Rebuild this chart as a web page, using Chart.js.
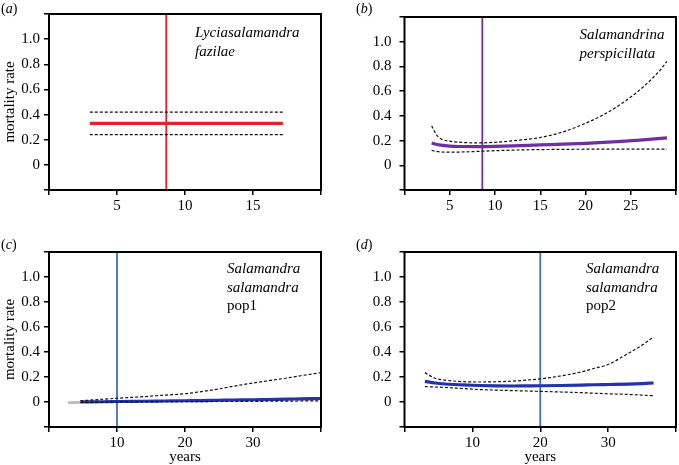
<!DOCTYPE html>
<html lang="en">
<head>
    <meta charset="UTF-8">
    <title>Mortality rate by age</title>
    <script src="https://cdn.jsdelivr.net/npm/chart.js@4.4.0/dist/chart.umd.min.js"></script>
    <style>
        body, html {
            margin: 0;
            padding: 0;
            background: #fff;
        }
        canvas {
            position: absolute; /* each panel sits in its own canvas */
        }
    </style>
</head>
<body>
<canvas id="panelA" width="340" height="230" style="left:0;top:0"></canvas>
<canvas id="panelB" width="339" height="230" style="left:340px;top:0"></canvas>
<canvas id="panelC" width="340" height="235" style="left:0;top:230px"></canvas>
<canvas id="panelD" width="339" height="235" style="left:340px;top:230px"></canvas>

<script>
    // (a) Lyciasalamandra fazilae
    const aYears = [3, 17.2];
    const aRate = [0.33, 0.33];
    const aUpper = [0.42, 0.42];
    const aLower = [0.24, 0.24];
    const aCut = 8.62;

    // (b) Salamandrina perspicillata
    const bYears = [3, 3.5, 4, 5, 6, 8, 10, 12, 15, 17.5, 20, 22, 24, 26, 28, 29];
    const bRate = [0.18, 0.17, 0.163, 0.155, 0.152, 0.151, 0.153, 0.157, 0.165, 0.171, 0.178, 0.185, 0.193, 0.203, 0.215, 0.222];
    const bUpper = [0.32, 0.25, 0.215, 0.195, 0.187, 0.181, 0.186, 0.198, 0.225, 0.27, 0.34, 0.41, 0.5, 0.61, 0.75, 0.84];
    const bLower = [0.12, 0.113, 0.108, 0.106, 0.107, 0.112, 0.118, 0.123, 0.127, 0.129, 0.13, 0.13, 0.13, 0.13, 0.13, 0.13];
    const bCut = 8.6;

    // (c) Salamandra salamandra pop1
    const cYears = [4.6, 8, 10, 14, 17, 20, 22, 25, 27, 30, 32, 35, 37, 40];
    const cRate = [0, 0.002, 0.004, 0.006, 0.008, 0.01, 0.011, 0.014, 0.016, 0.018, 0.02, 0.023, 0.025, 0.028];
    const cUpper = [0.01, 0.022, 0.03, 0.043, 0.055, 0.066, 0.08, 0.105, 0.125, 0.152, 0.168, 0.192, 0.21, 0.235];
    const cLower = [-0.003, -0.002, 0, 0.001, 0.002, 0.002, 0.003, 0.004, 0.004, 0.005, 0.006, 0.007, 0.008, 0.01];
    const cEarlyYears = [2.8, 4.6];
    const cEarly = [-0.005, -0.003];
    const cCut = 10;

    // (d) Salamandra salamandra pop2
    const dYears = [3, 4.5, 6, 8.5, 11, 13.5, 16, 18, 20, 23, 26, 28, 30, 33, 35, 36.7];
    const dRate = [0.165, 0.152, 0.144, 0.137, 0.132, 0.129, 0.128, 0.129, 0.13, 0.132, 0.135, 0.138, 0.14, 0.143, 0.147, 0.152];
    const dUpper = [0.235, 0.19, 0.175, 0.163, 0.16, 0.162, 0.167, 0.175, 0.185, 0.208, 0.24, 0.27, 0.3, 0.39, 0.455, 0.52];
    const dLower = [0.123, 0.12, 0.116, 0.108, 0.1, 0.095, 0.091, 0.088, 0.085, 0.08, 0.075, 0.07, 0.066, 0.06, 0.055, 0.05];
    const dCut = 20;

    const yMin = -0.2, yMax = 1.2;
    const serif = '"Liberation Serif", "Times New Roman", serif';

    function pts(xs, ys) {
        return xs.map((x, i) => ({x: x, y: ys[i]}));
    }

    function curve(xs, ys, color, width, dash) {
        return {
            data: pts(xs, ys),
            showLine: true,
            borderColor: color,
            borderWidth: width,
            borderDash: dash || [],
            pointRadius: 0,
            cubicInterpolationMode: 'monotone',
            fill: false
        };
    }

    function cutLine(x, color) {
        return {
            data: [{x: x, y: yMin}, {x: x, y: yMax}],
            showLine: true,
            borderColor: color,
            borderWidth: 1.8,
            pointRadius: 0
        };
    }

    // frame, panel letter and species name
    const decor = {
        id: 'decor',
        afterDraw(chart, args, opts) {
            const ctx = chart.ctx;
            const a = chart.chartArea;
            ctx.save();
            ctx.strokeStyle = '#000';
            ctx.lineWidth = 2;
            ctx.strokeRect(a.left, a.top, a.right - a.left, a.bottom - a.top);

            ctx.fillStyle = '#000';
            ctx.textBaseline = 'alphabetic';
            // (x) with italic letter
            let x = opts.letterX;
            ctx.font = '14px ' + serif;
            ctx.fillText('(', x, opts.letterY);
            x += ctx.measureText('(').width;
            ctx.font = 'italic 14px ' + serif;
            ctx.fillText(opts.letter, x, opts.letterY);
            x += ctx.measureText(opts.letter).width;
            ctx.font = '14px ' + serif;
            ctx.fillText(')', x, opts.letterY);

            opts.lines.forEach((ln, i) => {
                ctx.font = (ln.italic ? 'italic ' : '') + '15px ' + serif;
                ctx.fillText(ln.text, a.left + opts.noteX, a.top + opts.noteY + i * 18.7);
            });
            ctx.restore();
        }
    };

    function makePanel(id, p) {
        return new Chart(document.getElementById(id), {
            type: 'scatter',
            data: {datasets: p.datasets},
            plugins: [decor],
            options: {
                responsive: false,
                animation: false,
                layout: {padding: p.padding},
                plugins: {
                    legend: {display: false},
                    tooltip: {enabled: false},
                    decor: p.decor
                },
                scales: {
                    x: {
                        type: 'linear',
                        min: 0,
                        max: p.xMax,
                        border: {display: false},
                        grid: {drawOnChartArea: false, drawTicks: true, tickLength: 5, color: '#000', lineWidth: 1.5},
                        ticks: {
                            stepSize: p.xStep,
                            autoSkip: false,
                            maxRotation: 0,
                            padding: 2,
                            color: '#000',
                            font: {family: serif, size: 15},
                            callback: v => (v === 0 || v === p.xMax) ? '' : String(v)
                        },
                        title: {
                            display: !!p.xTitle,
                            text: p.xTitle || '',
                            color: '#000',
                            font: {family: serif, size: 15, lineHeight: 1},
                            padding: {top: 0, bottom: 0}
                        },
                        afterFit: s => { s.height = p.xHeight; }
                    },
                    y: {
                        type: 'linear',
                        min: yMin,
                        max: yMax,
                        border: {display: false},
                        grid: {drawOnChartArea: false, drawTicks: true, tickLength: 5, color: '#000', lineWidth: 1.5},
                        ticks: {
                            stepSize: 0.2,
                            autoSkip: false,
                            padding: p.yPad,
                            color: '#000',
                            font: {family: serif, size: 15},
                            callback: v => {
                                const r = Math.round(v * 10) / 10;
                                if (r < 0 || r > 1) return '';
                                return r === 0 ? '0' : r.toFixed(1);
                            }
                        },
                        title: {
                            display: !!p.yTitle,
                            text: p.yTitle || '',
                            color: '#000',
                            font: {family: serif, size: 15, lineHeight: 1},
                            padding: {top: 2.5, bottom: 0}
                        },
                        afterFit: s => { s.width = p.yWidth; }
                    }
                }
            }
        });
    }

    const red = '#e3232a';
    const purple = '#6e2fa0';
    const cutBlue = '#3f70c8';
    const navy = '#2433ad';
    const dash = [3, 2];

    makePanel('panelA', {
        xMax: 20, xStep: 5, yWidth: 49, xHeight: 40, yPad: 4,
        padding: {top: 14, right: 19, left: 0, bottom: 0},
        yTitle: 'mortality rate',
        datasets: [
            curve(aYears, aUpper, '#111', 1.2, dash),
            curve(aYears, aLower, '#111', 1.2, dash),
            curve(aYears, aRate, red, 3.2),
            cutLine(aCut, red)
        ],
        decor: {
            letter: 'a', letterX: 1, letterY: 13,
            noteX: 146, noteY: 23,
            lines: [{text: 'Lyciasalamandra', italic: true}, {text: 'fazilae', italic: true}]
        }
    });

    makePanel('panelB', {
        xMax: 30, xStep: 5, yWidth: 64.5, xHeight: 40, yPad: 8,
        padding: {top: 14, right: 3, left: 0, bottom: 0},
        datasets: [
            curve(bYears, bUpper, '#111', 1.2, dash),
            curve(bYears, bLower, '#111', 1.2, dash),
            curve(bYears, bRate, purple, 3.2),
            cutLine(bCut, purple)
        ],
        decor: {
            letter: 'b', letterX: 16, letterY: 13,
            noteX: 175, noteY: 22,
            lines: [{text: 'Salamandrina', italic: true}, {text: 'perspicillata', italic: true}]
        }
    });

    makePanel('panelC', {
        xMax: 40, xStep: 10, yWidth: 49, xHeight: 38, yPad: 4,
        padding: {top: 22, right: 19, left: 0, bottom: 0},
        yTitle: 'mortality rate',
        xTitle: 'years',
        datasets: [
            curve(cYears, cUpper, '#111', 1.2, dash),
            curve(cYears, cLower, '#111', 1.2, dash),
            curve(cEarlyYears, cEarly, '#b8bccd', 3),
            curve(cYears, cRate, navy, 3.2),
            cutLine(cCut, cutBlue)
        ],
        decor: {
            letter: 'c', letterX: 1, letterY: 19,
            noteX: 178, noteY: 21,
            lines: [{text: 'Salamandra', italic: true}, {text: 'salamandra', italic: true}, {text: 'pop1', italic: false}]
        }
    });

    makePanel('panelD', {
        xMax: 40, xStep: 10, yWidth: 64.5, xHeight: 38, yPad: 8,
        padding: {top: 22, right: 3, left: 0, bottom: 0},
        xTitle: 'years',
        datasets: [
            curve(dYears, dUpper, '#111', 1.2, dash),
            curve(dYears, dLower, '#111', 1.2, dash),
            curve(dYears, dRate, navy, 3.2),
            cutLine(dCut, cutBlue)
        ],
        decor: {
            letter: 'd', letterX: 16, letterY: 19,
            noteX: 181.5, noteY: 21,
            lines: [{text: 'Salamandra', italic: true}, {text: 'salamandra', italic: true}, {text: 'pop2', italic: false}]
        }
    });
</script>
</body>
</html>
